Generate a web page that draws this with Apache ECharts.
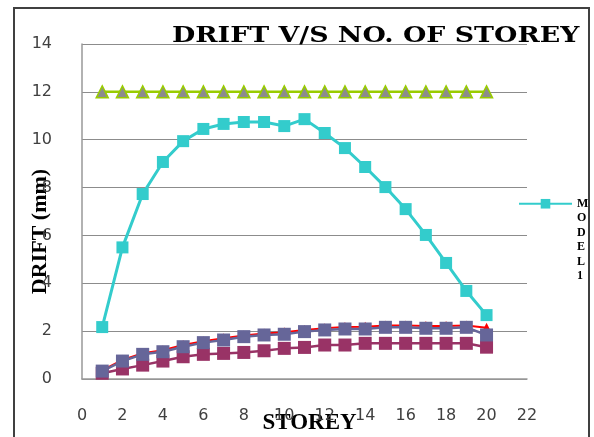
<!DOCTYPE html>
<html><head><meta charset="utf-8">
<script src="https://cdn.jsdelivr.net/npm/echarts@6/dist/echarts.min.js"></script>
<style>html,body{margin:0;padding:0;background:#fff}#c{width:594px;height:437px}</style>
</head><body><div id="c"></div>
<script>
const storeys = [1,2,3,4,5,6,7,8,9,10,11,12,13,14,15,16,17,18,19,20];
const limitVals = [12,12,12,12,12,12,12,12,12,12,12,12,12,12,12,12,12,12,12,12];
const model1 = [2.17,5.5,7.73,9.07,9.94,10.45,10.66,10.74,10.74,10.57,10.86,10.28,9.65,8.86,8.02,7.1,6.02,4.85,3.68,2.67];
const redVals = [0.36,0.8,1.08,1.2,1.42,1.58,1.7,1.82,1.9,1.95,2.05,2.12,2.17,2.18,2.24,2.24,2.22,2.22,2.24,2.14];
const slateVals = [0.33,0.75,1.03,1.14,1.35,1.52,1.63,1.77,1.84,1.87,1.98,2.05,2.09,2.09,2.16,2.16,2.12,2.12,2.16,1.84];
const maroonVals = [0.24,0.42,0.58,0.75,0.93,1.03,1.07,1.11,1.18,1.28,1.32,1.42,1.42,1.49,1.49,1.49,1.49,1.49,1.49,1.33];
const xTicks = {min:0, max:22, interval:2};
const yTicks = {min:0, max:14, interval:2};
const titleText = 'DRIFT V/S NO. OF STOREY';

const pair = arr => storeys.map((s,i)=>[s,arr[i]]);
const chart = echarts.init(document.getElementById('c'));
chart.setOption({
  animation:false,
  graphic:[
    {type:'rect',shape:{x:14,y:8,width:575,height:440},style:{fill:'none',stroke:'#404040',lineWidth:2},z:-1},
    {type:'text',x:172,y:36,scaleX:1.22,z:10,style:{text:titleText,fontFamily:'DejaVu Serif',fontWeight:'bold',fontSize:22,fill:'#000',verticalAlign:'middle',align:'left'}}
  ],
  legend:{data:['MODEL1'],left:513,top:119,orient:'vertical',itemWidth:53,itemHeight:12,
    formatter:n=>'\n\n\n\n\n'+n.split('').join('\n'),
    textStyle:{fontFamily:'Liberation Serif',fontWeight:'bold',fontSize:12,lineHeight:14.5,color:'#000'}},
  grid:{left:82,right:67,top:44,bottom:58,outerBoundsMode:'none',containLabel:false},
  xAxis:{type:'value',min:xTicks.min,max:xTicks.max,interval:xTicks.interval,
    name:'STOREY',nameLocation:'middle',nameGap:33,nameMoveOverlap:false,
    nameTextStyle:{fontFamily:'Liberation Serif',fontWeight:'bold',fontSize:23,color:'#000',padding:[0,0,0,10]},
    axisLine:{lineStyle:{color:'#999',width:1.5}},axisTick:{show:false},splitLine:{show:false},
    axisLabel:{margin:29,fontFamily:'DejaVu Sans',fontSize:16,color:'#404040'}},
  yAxis:{type:'value',min:yTicks.min,max:yTicks.max,interval:yTicks.interval,
    name:'DRIFT (mm)',nameLocation:'middle',nameGap:31,nameMoveOverlap:false,
    nameTextStyle:{fontFamily:'Liberation Serif',fontWeight:'bold',fontSize:22,color:'#000',padding:[0,40,0,0]},
    axisLine:{show:true,lineStyle:{color:'#999',width:1.5}},axisTick:{show:false},
    splitLine:{lineStyle:{color:'#8c8c8c',width:1.2}},
    axisLabel:{margin:30,fontFamily:'DejaVu Sans',fontSize:16,color:'#404040'}},
  series:[
    {name:'LIMIT',type:'line',data:pair(limitVals),symbol:'triangle',symbolSize:12,
      lineStyle:{color:'#99cc00',width:2.5},itemStyle:{color:'#8c8c8c',borderColor:'#99cc00',borderWidth:1.5}},
    {name:'MODEL1',type:'line',data:pair(model1),symbol:'rect',symbolSize:12,
      lineStyle:{color:'#33cccc',width:3},itemStyle:{color:'#33cccc'}},
    {name:'MODEL2',type:'line',data:pair(redVals),symbol:'triangle',symbolSize:10,
      lineStyle:{color:'#ff0000',width:2},itemStyle:{color:'#ff0000'}},
    {name:'MODEL3',type:'line',data:pair(maroonVals),symbol:'rect',symbolSize:13,
      lineStyle:{color:'#993366',width:2.5},itemStyle:{color:'#993366'}},
    {name:'MODEL4',type:'line',data:pair(slateVals),symbol:'rect',symbolSize:13,
      lineStyle:{color:'#666699',width:2.5},itemStyle:{color:'#666699'}}
  ]
});
</script></body></html>
